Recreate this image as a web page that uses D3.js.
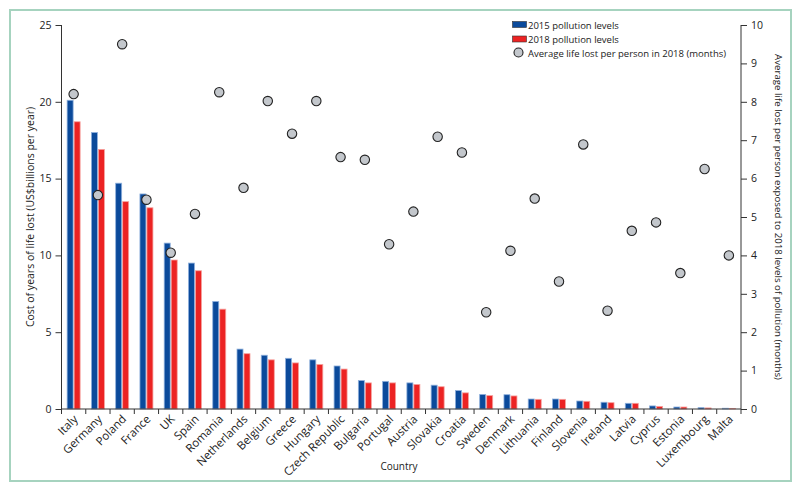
<!DOCTYPE html>
<html><head><meta charset="utf-8">
<script src="https://cdnjs.cloudflare.com/ajax/libs/d3/7.8.5/d3.min.js"></script>
<style>
body{margin:0;background:#fff;}
svg text{font-family:"Open Sans",sans-serif;fill:#222;}
</style></head>
<body><svg id="c" width="800" height="492"></svg>
<script>
const countries = ["Italy","Germany","Poland","France","UK","Spain","Romania","Netherlands","Belgium","Greece","Hungary","Czech Republic","Bulgaria","Portugal","Austria","Slovakia","Croatia","Sweden","Denmark","Lithuania","Finland","Slovenia","Ireland","Latvia","Cyprus","Estonia","Luxembourg","Malta"];
const cost2015 = [20.1,18.0,14.7,14.0,10.8,9.5,7.0,3.9,3.5,3.3,3.2,2.8,1.85,1.8,1.7,1.55,1.2,0.95,0.93,0.65,0.65,0.52,0.44,0.37,0.2,0.13,0.09,0.05];
const cost2018 = [18.7,16.9,13.5,13.1,9.7,9.0,6.5,3.6,3.2,3.0,2.9,2.6,1.7,1.7,1.6,1.45,1.05,0.87,0.85,0.63,0.63,0.5,0.41,0.37,0.17,0.13,0.07,0.04];
const lifeLost = [8.2,5.57,9.5,5.45,4.07,5.08,8.25,5.76,8.02,7.17,8.02,6.56,6.49,4.29,5.14,7.09,6.68,2.52,4.12,5.48,3.32,6.89,2.56,4.64,4.86,3.54,6.25,4.0];
const leftTicks = [0,5,10,15,20,25];
const rightTicks = [0,1,2,3,4,5,6,7,8,9,10];
const legendLabels = ["2015 pollution levels","2018 pollution levels","Average life lost per person in 2018 (months)"];

const svg = d3.select("#c");
// frame
svg.append("rect").attr("x",10).attr("y",10).attr("width",781).attr("height",471)
  .attr("fill","none").attr("stroke","#a6d3bf").attr("stroke-width",2);

const x = d3.scaleBand().domain(countries).range([61.5,741]).padding(0);
const yL = d3.scaleLinear().domain([0,25]).range([409,25]);
const yR = d3.scaleLinear().domain([0,10]).range([409,25]);
const bw = 6;
const cx = c => x(c) + x.bandwidth()/2;

// bars
const g = svg.append("g");
g.selectAll(".b15").data(countries).join("rect")
  .attr("x",c=>cx(c)-bw-0.5).attr("width",bw)
  .attr("y",(c,i)=>yL(cost2015[i])).attr("height",(c,i)=>yL(0)-yL(cost2015[i]))
  .attr("fill","#0b4a9b").attr("stroke","#8fb0dc").attr("stroke-width",0.8);
g.selectAll(".b18").data(countries).join("rect")
  .attr("x",c=>cx(c)+0.5).attr("width",bw)
  .attr("y",(c,i)=>yL(cost2018[i])).attr("height",(c,i)=>yL(0)-yL(cost2018[i]))
  .attr("fill","#ec2323").attr("stroke","#f6a19d").attr("stroke-width",0.8);

// axes
const fs = "10.5px";
const la = svg.append("g").attr("transform","translate(61.5,0)")
  .call(d3.axisLeft(yL).tickValues(leftTicks).tickSize(6).tickPadding(4).tickFormat(d3.format("d")));
const ra = svg.append("g").attr("transform","translate(741,0)")
  .call(d3.axisRight(yR).tickValues(rightTicks).tickSize(6).tickPadding(4).tickFormat(d3.format("d")));
[la,ra].forEach(a=>{a.selectAll("path,line").attr("stroke","#333");a.selectAll("text").style("font-size",fs).attr("fill","#222");});
la.select(".domain").attr("d","M0,25V409");
ra.select(".domain").attr("d","M0,25V409");

// x axis
const xa = svg.append("g").attr("transform","translate(0,409)")
  .call(d3.axisBottom(x).tickSize(0).tickPadding(0));
xa.select(".domain").attr("d","M61.5,0H741").attr("stroke","#333");
xa.selectAll(".tick text").remove();
svg.append("g").selectAll("line").data(d3.range(countries.length+1)).join("line")
  .attr("x1",i=>61.5+i*x.step()).attr("x2",i=>61.5+i*x.step())
  .attr("y1",409).attr("y2",414).attr("stroke","#333");
svg.append("g").selectAll("text").data(countries).join("text")
  .attr("transform",c=>`translate(${cx(c)+2},${417}) rotate(-45)`)
  .attr("text-anchor","end").attr("dy","0.35em").style("font-size","11.5px").text(c=>c);

// dots
svg.append("g").selectAll("circle").data(countries).join("circle")
  .attr("cx",c=>cx(c)).attr("cy",(c,i)=>yR(lifeLost[i])).attr("r",4.7)
  .attr("fill","#c3c7cc").attr("stroke","#222").attr("stroke-width",1.1);

// titles
svg.append("text").attr("transform","translate(30,217) rotate(-90)").attr("text-anchor","middle")
  .attr("dy","0.35em").style("font-size","10.5px").text("Cost of years of life lost (US$billions per year)");
svg.append("text").attr("transform","translate(778,217) rotate(90)").attr("text-anchor","middle")
  .attr("dy","0.35em").style("font-size","9.7px").text("Average life lost per person exposed to 2018 levels of pollution (months)");
svg.append("text").attr("x",399).attr("y",470).attr("text-anchor","middle").style("font-size","10px").text("Country");

// legend
const lg = svg.append("g");
lg.append("rect").attr("x",512.5).attr("y",21.5).attr("width",14).attr("height",6).attr("fill","#0b4a9b").attr("stroke","#333").attr("stroke-width",0.6);
lg.append("rect").attr("x",512.5).attr("y",36).attr("width",14).attr("height",6).attr("fill","#ec2323").attr("stroke","#333").attr("stroke-width",0.6);
lg.append("circle").attr("cx",518.5).attr("cy",52.5).attr("r",4.5).attr("fill","#c3c7cc").attr("stroke","#222").attr("stroke-width",1.1);
lg.selectAll("text").data(legendLabels).join("text")
  .attr("x",528).attr("y",(d,i)=>28.5+i*14).style("font-size","9.5px").text(d=>d);
</script></body></html>
